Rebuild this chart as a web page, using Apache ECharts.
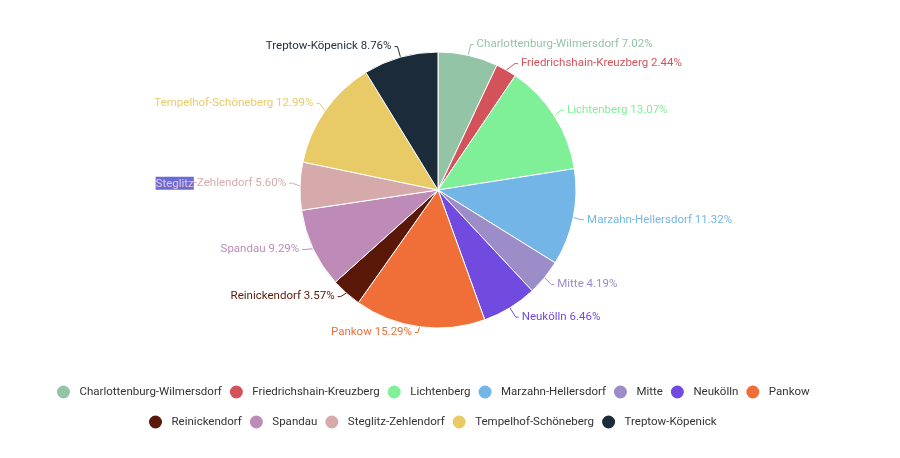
<!DOCTYPE html>
<html><head><meta charset="utf-8">
<script src="https://cdn.jsdelivr.net/npm/echarts@6/dist/echarts.min.js"></script>
<style>html,body{margin:0;padding:0;background:#fff}#c{width:900px;height:458px}</style>
</head><body><div id="c"></div>
<script>
const districts = ["Charlottenburg-Wilmersdorf","Friedrichshain-Kreuzberg","Lichtenberg","Marzahn-Hellersdorf","Mitte","Neukölln","Pankow","Reinickendorf","Spandau","Steglitz-Zehlendorf","Tempelhof-Schöneberg","Treptow-Köpenick"];
const shares = [7.02,2.44,13.07,11.32,4.19,6.46,15.29,3.57,9.29,5.60,12.99,8.76];
const colors = ["#94c4a6","#d4535b","#7ff098","#72b5e6","#9c8cc7","#714be0","#f06e37","#5a1908","#be8ab7","#d6aaaa","#e8cb66","#1c2b39"];
const legendRow1 = districts.slice(0,7);
const legendRow2 = districts.slice(7);

const legendBase = {
  orient:'horizontal', padding:0,
  icon:'circle', itemWidth:22, itemHeight:15, itemGap:6,
  textStyle:{fontSize:11.5, color:'#333', fontFamily:'Roboto', lineHeight:24}
};

const chart = echarts.init(document.getElementById('c'));
chart.setOption({
  animation:false,
  color: colors,
  textStyle:{fontFamily:'Roboto'},
  legend:[
    Object.assign({top:380, left:55, data:legendRow1}, legendBase),
    Object.assign({top:410, left:147, data:legendRow2}, legendBase)
  ],
  series:[{
    type:'pie',
    top:0, bottom:116, left:0, right:0,
    center:[438,190],
    radius:[0,138],
    startAngle:90,
    itemStyle:{borderColor:'#fff', borderWidth:1},
    label:{
      fontSize:11.5, fontFamily:'Roboto', lineHeight:17,
      distanceToLabelLine:3,
      formatter:function(p){
        if (p.name === 'Steglitz-Zehlendorf') {
          return '{sel|Steglitz}-Zehlendorf ' + p.value.toFixed(2) + '%';
        }
        return p.name + ' ' + p.value.toFixed(2) + '%';
      },
      rich:{sel:{backgroundColor:'#6b6bd6', color:'#e6c8d8', fontSize:11.5, fontFamily:'Roboto', lineHeight:15, padding:[1,0,0,0]}}
    },
    labelLine:{length:11, length2:3, lineStyle:{width:1}},
    data: districts.map((n,i)=>({name:n, value:shares[i], label:{color:colors[i]}}))
  }]
});
</script></body></html>
